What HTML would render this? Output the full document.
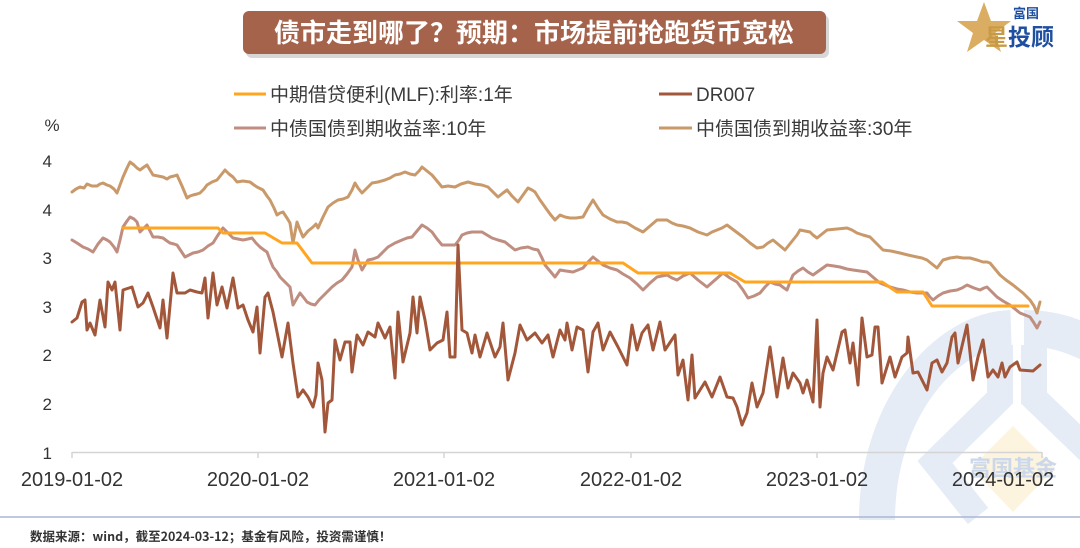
<!DOCTYPE html>
<html><head><meta charset="utf-8"><style>
html,body{margin:0;padding:0;background:#fff;}
svg{display:block;}
</style></head><body>
<svg width="1080" height="548" viewBox="0 0 1080 548" xmlns="http://www.w3.org/2000/svg" font-family="'Liberation Sans','Noto Sans CJK SC',sans-serif">
<rect width="1080" height="548" fill="#fff"/>
<!-- watermark -->
<g fill="none" stroke="#e5ecf6" stroke-width="36">
<path d="M877 520 C877 410 945 330 1011 328"/>
<path d="M1024 328 C1048 328 1068 333 1092 345"/>
</g>
<g fill="none" stroke="#e5ecf6" stroke-width="26" stroke-linejoin="miter">
<path d="M1000 345 L1000 398 L935 462 L978 516"/>
<path d="M1034 345 L1034 398 L1090 452"/>
</g>
<polygon points="1013,426 1055,468 1013,512 971,468" fill="#fdf4df"/>
<text x="1013" y="476" font-size="22" font-weight="bold" fill="#cbd7ea" text-anchor="middle" font-family="'Noto Sans CJK SC',sans-serif">富国基金</text>

<!-- title -->
<rect x="246" y="15" width="583" height="43" rx="6" fill="#bdbdbd" opacity="0.6"/>
<rect x="243" y="11" width="583" height="43" rx="6" fill="#a5634b"/>
<text x="534" y="42" font-size="26" font-weight="bold" fill="#fff" text-anchor="middle" font-family="'Noto Sans CJK SC',sans-serif">债市走到哪了？预期：市场提前抢跑货币宽松</text>

<!-- logo -->
<polygon points="984,2 991,21 1011,21 995,33 1001,52 984,40 967,52 973,33 957,21 977,21" fill="#d6a451" opacity="0.9"/>
<text x="1026" y="18" font-size="13" font-weight="bold" fill="#1f4fa0" text-anchor="middle" font-family="'Noto Sans CJK SC',sans-serif">富国</text>
<text x="985" y="45" font-size="23" font-weight="bold" fill="#c99a45" font-family="'Noto Sans CJK SC',sans-serif">星</text>
<text x="1008" y="45" font-size="23" font-weight="bold" fill="#1f4fa0" font-family="'Noto Sans CJK SC',sans-serif">投顾</text>

<!-- legend -->
<g font-size="19" fill="#3a3a3a">
<line x1="234" y1="94" x2="266" y2="94" stroke="#ffa51f" stroke-width="3"/>
<text x="270" y="101">中期借贷便利(MLF):利率:1年</text>
<line x1="659" y1="94" x2="692" y2="94" stroke="#a3573a" stroke-width="3"/>
<text x="696" y="101">DR007</text>
<line x1="234" y1="128" x2="266" y2="128" stroke="#bf8e80" stroke-width="3"/>
<text x="270" y="135">中债国债到期收益率:10年</text>
<line x1="659" y1="128" x2="692" y2="128" stroke="#c9996a" stroke-width="3"/>
<text x="696" y="135">中债国债到期收益率:30年</text>
</g>

<!-- y axis -->
<g font-size="17" fill="#333" text-anchor="end">
<text x="52" y="131" text-anchor="middle">%</text>
<text x="52" y="167">4</text>
<text x="52" y="216">4</text>
<text x="52" y="264">3</text>
<text x="52" y="313">3</text>
<text x="52" y="361">2</text>
<text x="52" y="410">2</text>
<text x="52" y="459">1</text>
</g>

<!-- x axis -->
<line x1="72" y1="452.5" x2="1042" y2="452.5" stroke="#d4d4d4" stroke-width="1.5"/>
<g stroke="#d4d4d4" stroke-width="1.5">
<line x1="72" y1="452" x2="72" y2="458"/>
<line x1="258" y1="452" x2="258" y2="458"/>
<line x1="444" y1="452" x2="444" y2="458"/>
<line x1="631" y1="452" x2="631" y2="458"/>
<line x1="817" y1="452" x2="817" y2="458"/>
<line x1="1042" y1="452" x2="1042" y2="458"/>
</g>
<g font-size="20" fill="#333" text-anchor="middle">
<text x="72" y="486">2019-01-02</text>
<text x="258" y="486">2020-01-02</text>
<text x="444" y="486">2021-01-02</text>
<text x="631" y="486">2022-01-02</text>
<text x="817" y="486">2023-01-02</text>
<text x="1003" y="486">2024-01-02</text>
</g>

<!-- series -->
<g fill="none" stroke-linejoin="round" stroke-linecap="round">
<polyline stroke="#c9996a" stroke-width="3" points="72,192 76,189 80,187 84,188 87,184 92,186 97,186 100,184 103,183 107,185 110,186 114,189 117,193 120,185 123,177 127,168 130,162 134,165 137,168 140,170 144,167 147,165 150,170 153,175 158,176 163,177 167,179 170,177 174,176 177,175 182,186 187,198 190,196 193,195 197,194 200,193 204,189 207,185 212,182 217,180 221,175 225,170 229,174 233,177 237,182 243,181 250,182 254,185 257,187 263,190 267,196 270,200 274,208 277,215 280,213 283,212 287,218 290,223 293,243 297,222 300,230 303,237 308,231 313,227 316,224 318,228 323,217 328,207 333,203 338,200 343,199 348,197 352,190 355,183 358,188 362,193 367,188 372,183 378,182 385,180 390,178 395,175 400,174 405,172 410,174 415,175 419,171 422,167 427,171 432,175 437,181 442,187 448,186 455,187 461,184 468,182 475,184 482,185 488,187 493,192 498,197 503,193 507,190 512,196 518,202 523,195 528,188 532,190 535,192 540,200 545,207 550,214 555,220 560,215 565,217 570,218 576,218 583,217 588,208 593,200 598,208 603,215 610,219 617,222 622,222 627,223 635,228 643,232 650,226 657,220 662,220 667,220 672,223 677,225 683,226 690,228 698,232 707,235 712,232 717,230 722,228 727,225 735,231 743,237 750,243 757,248 763,247 768,243 773,240 779,245 785,250 789,245 793,240 797,235 800,230 805,231 810,232 813,235 817,238 822,234 827,230 837,229 847,228 852,230 857,233 863,235 870,237 876,243 883,250 891,251 900,253 908,255 917,257 922,258 927,260 932,264 937,268 940,264 943,260 950,258 957,257 963,258 970,258 977,260 983,262 987,262 990,263 995,269 1000,275 1006,280 1013,285 1018,289 1023,293 1027,297 1030,300 1034,306 1037,313 1040,302"/>
<polyline stroke="#bf8e80" stroke-width="3" points="72,240 77,243 83,247 88,249 93,252 98,244 103,238 107,240 110,242 114,247 117,252 120,240 123,227 127,221 130,217 134,219 137,222 140,232 144,228 147,225 150,231 153,237 158,237 163,238 167,241 170,243 174,244 177,245 181,251 185,257 189,255 193,253 198,252 203,250 208,246 213,243 218,235 223,228 228,233 233,238 238,239 243,240 248,239 252,238 256,243 260,247 264,250 267,252 270,260 273,267 277,272 280,277 285,282 290,287 293,305 297,298 300,293 304,298 307,302 311,304 315,305 319,300 322,297 327,292 332,287 337,283 342,280 347,274 352,267 355,250 358,260 362,270 365,265 368,260 373,259 378,257 383,252 388,247 395,243 402,240 407,238 412,237 417,231 422,225 427,228 432,232 437,239 442,245 448,245 455,245 459,240 462,235 467,233 472,232 477,232 482,232 487,235 492,238 498,240 505,242 510,246 515,250 521,248 528,247 533,249 538,250 542,258 545,265 550,271 555,277 560,270 566,271 573,272 578,270 583,268 588,262 593,257 598,261 603,265 610,268 617,270 623,274 630,278 637,284 643,290 650,283 657,277 662,276 667,275 672,278 677,280 683,276 690,273 698,280 707,287 715,280 723,273 730,278 737,282 743,290 748,298 754,296 760,293 765,287 770,282 775,284 780,285 784,288 787,290 790,282 793,275 798,271 803,268 808,272 813,275 820,270 827,265 834,266 840,267 847,269 853,270 860,271 867,272 874,278 880,283 885,285 890,287 897,289 903,290 910,292 917,293 922,293 927,293 930,297 933,300 938,296 943,293 950,291 957,290 962,288 967,285 974,288 980,290 984,288 987,287 992,292 997,297 1003,301 1010,305 1015,309 1020,313 1025,315 1030,317 1034,323 1037,328 1040,322"/>
<polyline stroke="#ffa51f" stroke-width="3" points="123,228 218,228 223,233 265,233 282,243 297,243 312,263 623,263 638,273 730,273 745,282 882,282 897,292 923,292 932,306 1028,306"/>
<polyline stroke="#a3573a" stroke-width="3" points="72,322 77,318 82,302 85,300 87,330 90,323 95,335 100,300 105,327 108,282 112,290 115,282 120,330 123,290 132,287 138,307 143,303 148,293 153,307 160,328 163,300 167,338 173,273 177,293 185,293 190,290 197,292 202,293 205,278 208,318 213,273 217,305 222,287 227,308 233,278 238,308 243,305 248,320 253,332 257,307 260,353 265,297 268,293 273,312 282,357 288,323 293,363 298,397 303,390 308,397 313,407 316,395 318,363 322,380 325,432 328,403 332,400 335,340 340,360 345,342 350,342 352,372 357,335 363,345 368,332 375,337 378,323 385,338 390,327 395,378 398,312 403,362 410,333 413,297 417,333 420,297 425,320 430,350 437,343 443,340 447,312 450,357 455,357 458,245 462,330 467,333 472,353 475,335 480,357 487,333 495,357 500,347 503,323 508,380 515,353 520,325 527,340 535,333 542,343 548,335 553,357 560,330 565,340 567,323 572,350 577,327 583,330 588,372 593,332 598,323 603,350 610,332 618,347 627,365 632,325 637,350 642,333 648,325 653,350 660,322 665,350 675,335 678,375 683,360 688,400 692,355 695,398 705,382 712,397 720,377 727,397 733,398 737,407 742,425 747,413 752,383 757,407 763,393 770,347 777,397 783,358 788,388 793,373 800,383 803,393 807,380 813,402 817,320 820,407 823,373 827,357 833,370 842,332 845,330 850,363 853,343 858,385 862,318 867,357 872,355 875,327 878,327 882,383 890,357 895,377 902,357 907,353 908,337 913,373 918,372 927,390 932,363 937,360 942,372 947,363 952,337 955,333 958,363 967,325 973,380 978,357 983,340 988,377 993,370 998,377 1002,363 1005,377 1010,367 1017,362 1020,370 1033,371 1040,365"/>
</g>

<!-- footer -->
<line x1="0" y1="517" x2="1080" y2="517" stroke="#a8b7d2" stroke-width="1.5"/>
<text x="30" y="541" font-size="12.5" font-weight="bold" fill="#333" font-family="'Noto Sans CJK SC',sans-serif">数据来源：wind，截至2024-03-12；基金有风险，投资需谨慎！</text>
</svg>
</body></html>
